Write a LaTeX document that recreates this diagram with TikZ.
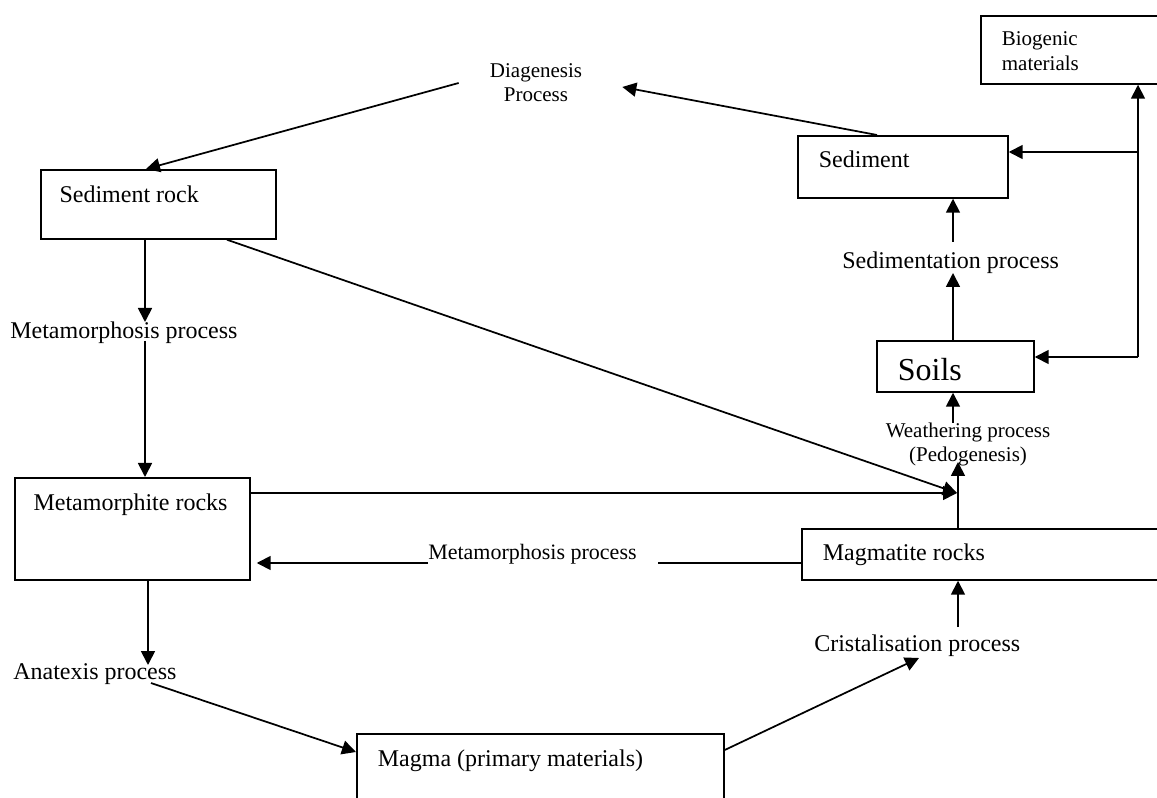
\documentclass[tikz,border=0pt]{standalone}
\usepackage{fontspec}
\setmainfont{Liberation Serif}
\usetikzlibrary{arrows.meta,calc}

\newcommand\txtnorm{\fontsize{18}{21.6}\selectfont}
\newcommand\txtsmall{\fontsize{15.75}{18.4}\selectfont}
\newcommand\txtmid{\fontsize{16.5}{19.8}\selectfont}
\newcommand\txtbig{\fontsize{24}{28.8}\selectfont}

\tikzset{
  rockbox/.style={draw, line width=1.3pt, anchor=north west, align=flush left, inner xsep=15.75pt, inner ysep=0pt, font=\txtnorm},
  lbl/.style={inner sep=0pt, font=\txtnorm},
  arr/.style={line width=1.3pt, -{Triangle[length=10.5pt,width=10.5pt]}},
  wire/.style={line width=1.3pt}
}

\begin{document}
\begin{tikzpicture}[x=0.75pt,y=0.75pt,yscale=-1,xscale=1]
\useasboundingbox (0,0) rectangle (1157,798);

%Shape: Rectangle
\node[rockbox, font=\txtsmall, text width=101.25pt, text height=22.5pt, text depth=28.5pt] (bio) at (980,15) {Biogenic\\materials};
%Shape: Rectangle
\node[rockbox, text width=126pt, text height=24pt, text depth=22.5pt] (sed) at (797,135) {Sediment};
%Shape: Rectangle
\node[rockbox, font=\txtbig, text width=86.25pt, text height=30pt, text depth=8.25pt] (soil) at (876,340) {Soils};
%Shape: Rectangle
\node[rockbox, text width=235.5pt, text height=24pt, text depth=14.25pt] (magm) at (801,528) {Magmatite rocks};
%Shape: Rectangle
\node[rockbox, inner xsep=14pt, text width=148.25pt, text height=24.75pt, text depth=27pt] (srock) at (40,169) {Sediment rock};
%Shape: Rectangle
\node[rockbox, inner xsep=14pt, text width=148.25pt, text height=24.75pt, text depth=51.75pt] (mrock) at (14,477) {Metamorphite rocks};
%Shape: Rectangle
\node[rockbox, text width=243.75pt, text height=24.75pt, text depth=30pt] (magma) at (356,733) {Magma (primary materials)};

% Text Node
\node[lbl, anchor=base, align=center, font=\txtsmall] (diag) at (536,102) {Diagenesis\\Process};
% Text Node
\node[lbl, anchor=base west] (meta1) at (10,339) {Metamorphosis process};
% Text Node
\node[lbl, anchor=base west] (sedproc) at (842,269) {Sedimentation process};
% Text Node
\node[lbl, anchor=base, align=center, font=\txtsmall] (weath) at (968,462) {Weathering process\\(Pedogenesis)};
% Text Node
\node[lbl, anchor=base west, font=\txtmid] (meta2) at (428,559) {Metamorphosis process};
% Text Node
\node[lbl, anchor=base west] (anat) at (13,679) {Anatexis process};
% Text Node
\node[lbl, anchor=base west] (crist) at (814,651) {Cristalisation process};

\coordinate (hub) at (957,493);
\coordinate (bus) at (1138,357);
\coordinate (tap) at (1138,152);

%Straight Lines
\draw[arr] ($(sed.north west)+(80,0)$) -- ($(diag.base east)+(40,-15)$);
\draw[arr] ($(diag.base west)+(-31,-19)$) -- ($(srock.north west)+(106,0)$);
\draw[arr] ($(srock.south west)+(105,0)$) -- ($(meta1.base west)+(135,-17)$);
\draw[arr] ($(meta1.base west)+(135,2)$) -- ($(mrock.north west)+(131,0)$);
\draw[arr] ($(srock.south west)+(187,0)$) -- (hub);
\draw[arr] (mrock.east |- hub) -- (hub);
%Straight Lines
\draw[arr] ($(magm.north west)+(157,0)$) -- ($(weath.base)+(-10,0)$);
\draw[arr] ($(weath.base)+(-15,-39)$) -- ($(soil.south west)+(77,0)$);
\draw[arr] ($(soil.north west)+(77,0)$) -- ($(sedproc.base west)+(111,4)$);
\draw[arr] ($(sedproc.base west)+(111,-27)$) -- ($(sed.south west)+(156,0)$);
\draw[arr] (bus) -- (bus |- bio.south);
\draw[arr] (tap) -- (sed.east |- tap);
\draw[arr] (bus) -- (soil.east |- bus);
%Straight Lines
\draw[wire] ($(magm.north west)+(0,35)$) -- ($(meta2.base east)+(21,4)$);
\draw[arr] ($(meta2.base west)+(0,4)$) -- ($(mrock.north east)+(6,86)$);
\draw[arr] ($(mrock.south west)+(134,0)$) -- ($(anat.base west)+(135,-14)$);
\draw[arr] ($(anat.base west)+(138,4)$) -- ($(magma.north west)+(0,19)$);
\draw[arr] ($(magma.north east)+(0,17)$) -- ($(crist.base west)+(105,7)$);
\draw[arr] ($(crist.base west)+(144,-24)$) -- ($(magm.south west)+(157,0)$);
\end{tikzpicture}
\end{document}
